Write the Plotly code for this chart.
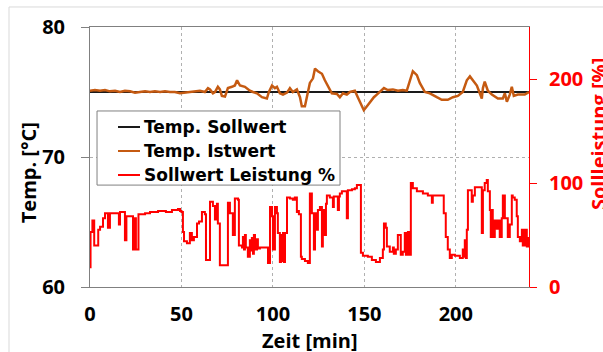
import plotly.graph_objects as go

# ---- data ----
# Temperature set point (°C)
soll_t = [0, 240]
soll_temp = [75.0, 75.0]

# Temperature actual value (°C)
ist_t = [0, 2.7, 5.5, 8.2, 10.9, 13.7, 16.4, 19.1, 21.9, 24.6, 27.3, 30.1, 32.8, 35.5, 38.3,
         41, 43.7, 46.4, 49.2, 51.9, 54.6, 57.4, 60.1, 62.8, 64.5, 65.6, 67.2, 68.3, 69.9,
         71, 72.1, 73.8, 75.4, 77.6, 79.2, 80.4, 82, 84.7, 87.4, 89.1, 91.3, 94, 96.7, 97.8,
         99.5, 101.1, 102.2, 103.8, 105.5, 107.7, 109.3, 110.9, 113.1, 114.8, 115.8, 117.5,
         119.1, 120.2, 121.9, 123, 124.6, 126.8, 128.4, 130.1, 132.2, 135, 136.6, 138.3,
         140.4, 142.1, 144.8, 146.4, 148.6, 149.7, 151.4, 153, 155.2, 156.8, 158.5, 160.7,
         162.8, 165.6, 168.3, 171, 173.2, 174.9, 176.5, 178.7, 180.3, 183.1, 185.8, 189.6,
         192.3, 195.6, 198.4, 201.1, 203.8, 206, 207.7, 209.3, 211.5, 213.1, 214.2, 214.8,
         215.8, 217.5, 219.7, 223, 225.7, 226.8, 227.9, 229.5, 230.6, 231.7, 233.9, 237.7, 240]
ist_temp = [75.1, 75.15, 75.1, 75.15, 75.05, 75.1, 75.0, 75.1, 75.05, 74.95, 75.0, 75.05, 75.0,
            75.05, 75.0, 75.05, 75.0, 75.0, 74.9, 74.95, 75.0, 75.05, 75.1, 75.0, 75.3, 75.2,
            74.9, 75.0, 75.4, 75.2, 74.7, 74.65, 75.3, 75.4, 75.5, 75.9, 75.5, 75.4, 75.1, 75.0,
            74.9, 74.6, 74.5, 75.0, 75.5, 75.3, 75.4, 74.9, 74.8, 74.95, 75.3, 75.0, 75.2, 74.6,
            73.9, 73.9, 74.9, 75.7, 76.05, 76.8, 76.6, 76.4, 75.9, 75.4, 74.9, 74.85, 74.6, 74.9,
            74.8, 75.0, 75.1, 74.6, 73.9, 73.6, 73.9, 74.2, 74.6, 74.8, 75.0, 75.3, 75.15, 75.2,
            75.1, 75.15, 75.1, 75.9, 76.6, 76.3, 75.7, 75.0, 74.9, 74.6, 74.4, 74.4, 74.6, 74.7,
            75.0, 75.9, 76.2, 75.9, 75.5, 74.9, 74.5, 75.3, 75.8, 75.1, 74.8, 74.5, 74.5, 74.9,
            74.25, 74.8, 75.4, 74.7, 74.8, 74.8, 75.0]

# Power set point (%)
lst_t = [0, 0.3, 1.3, 2.3, 4.5, 5.5, 7.1, 8.2, 9.8, 10.9, 15.8, 16.4, 19.1, 19.9, 23.5, 24.6,
         25.1, 26.5, 30.1, 32.8, 37.2, 41.5, 44.8, 48.1, 49.2, 50, 50.8, 51.4, 53, 54.6, 55.7,
         56.8, 58.5, 59.6, 61.2, 62.8, 63.4, 65.6, 67.2, 68.3, 69.4, 69.9, 71, 74.9, 75.4,
         76.5, 78.1, 79.2, 80.9, 81.4, 83.1, 83.6, 84.2, 84.7, 85.2, 86.3, 87.4, 88, 88.5,
         89.1, 89.6, 90.2, 91.3, 91.8, 92.9, 97.3, 98.4, 99.5, 100, 101.1, 102.2, 102.7,
         103.8, 104.4, 104.9, 105.5, 106, 106.6, 107.7, 109.3, 110.9, 112, 113.1, 113.7,
         114.2, 115.3, 115.8, 117.5, 119.1, 120.2, 121.3, 122.4, 123, 124, 124.6, 125.7,
         126.8, 127.3, 128.4, 129, 129.5, 131.1, 132.8, 133.3, 135.5, 136.1, 136.6, 137.7,
         140.4, 141, 143.2, 144.8, 145.9, 148.1, 149.2, 151.9, 154.1, 156.3, 158.5, 160.1,
         160.7, 161.7, 162.3, 163.9, 165.6, 166.1, 167.2, 168.3, 169.9, 171, 172.1, 172.7,
         173.8, 174.9, 175.4, 176.5, 178.7, 182, 184.7, 186.9, 187.4, 192.9, 193.4, 194.5,
         195.6, 196.7, 197.8, 199.5, 202.2, 203.8, 204.4, 204.9, 205.5, 206, 206.6, 208.7,
         209.3, 210.4, 214.2, 214.8, 215.8, 216.9, 217.5, 218.6, 219.1, 219.7, 220.2, 220.8,
         221.3, 222.4, 223, 224, 225.1, 225.7, 226.8, 228.4, 229.5, 230.6, 231.1, 232.2,
         233.3, 233.9, 235, 236.1, 236.6, 237.7, 238.8, 239.3, 240]
lst_val = [19, 53, 64, 40, 55, 58, 66, 71, 57, 71, 60, 72, 45, 68, 36, 66, 36, 70, 71, 72, 73,
           72, 74, 75, 73, 72, 53, 44, 42, 52, 45, 48, 61, 63, 72, 70, 26, 82, 78, 65, 80, 61,
           21, 21, 81, 71, 50, 85, 84, 40, 38, 48, 36, 50, 38, 29, 45, 35, 47, 32, 50, 36, 46,
           37, 38, 23, 77, 68, 36, 77, 71, 52, 24, 50, 25, 52, 24, 52, 86, 85, 84, 86, 72, 73,
           70, 29, 27, 25, 23, 90, 71, 36, 71, 55, 74, 77, 39, 74, 50, 80, 88, 86, 77, 87, 74,
           87, 90, 92, 66, 93, 94, 95, 98, 33, 30, 29, 26, 24, 28, 36, 61, 57, 39, 34, 38, 32,
           36, 50, 31, 34, 52, 31, 53, 31, 100, 95, 92, 90, 88, 81, 88, 88, 71, 48, 36, 28, 31,
           30, 28, 36, 29, 45, 28, 55, 93, 82, 88, 96, 52, 93, 100, 103, 92, 74, 48, 74, 64,
           48, 64, 56, 64, 48, 66, 88, 66, 48, 60, 88, 86, 84, 68, 48, 44, 55, 40, 55, 39, 47,
           38, 38]

series_names = ["Temp. Sollwert", "Temp. Istwert", "Sollwert Leistung %"]

x_ticks = [0, 50, 100, 150, 200]
y_ticks = [60, 70, 80]
y2_ticks = [0, 100, 200]

FONT = "Open Sans"
LEG_FONT = "DejaVu Sans"
GRAY = "#808080"
RED = "#FF0000"
ORANGE = "#C55A11"
BLACK = "#1a1a1a"
colors = [BLACK, ORANGE, RED]

fig = go.Figure()
fig.add_trace(go.Scatter(x=soll_t, y=soll_temp, mode="lines", name=series_names[0],
                         line=dict(color=BLACK, width=2)))
fig.add_trace(go.Scatter(x=ist_t, y=ist_temp, mode="lines", name=series_names[1],
                         line=dict(color=ORANGE, width=2.5)))
fig.add_trace(go.Scatter(x=lst_t, y=lst_val, mode="lines", name=series_names[2],
                         yaxis="y2", line=dict(color=RED, width=2, shape="hv")))

# manual legend box (paper coordinates) so its size matches the reference
leg_x0, leg_x1, leg_y0, leg_y1 = 0.016, 0.5695, 0.392, 0.677
entry_y = [0.6154, 0.5231, 0.4308]
shapes = [
    dict(type="rect", xref="paper", yref="paper", x0=-0.1845, x1=1.2,
         y0=-0.3, y1=1.077, line=dict(color="#D9D9D9", width=1), layer="below"),
    dict(type="rect", xref="paper", yref="paper", x0=leg_x0, x1=leg_x1,
         y0=leg_y0, y1=leg_y1, fillcolor="white", line=dict(color=GRAY, width=1),
         layer="above"),
]
annotations = []
for name, col, ey in zip(series_names, colors, entry_y):
    shapes.append(dict(type="line", xref="paper", yref="paper", x0=0.0638, x1=0.1139,
                       y0=ey, y1=ey, line=dict(color=col, width=2), layer="above"))
    annotations.append(dict(text=name, xref="paper", yref="paper", x=0.1185, y=ey,
                            xanchor="left", yanchor="middle", showarrow=False,
                            font=dict(family=LEG_FONT, size=17, color="black", weight="bold")))

annotations += [
    dict(text="Zeit [min]", xref="paper", yref="paper", x=0.501, y=-0.204,
         xanchor="center", yanchor="middle", showarrow=False, height=21,
         font=dict(family=FONT, size=20, color="black", weight="bold")),
    dict(text="Temp. [°C]", xref="paper", yref="paper", x=-0.141, y=0.438,
         xanchor="center", yanchor="middle", showarrow=False, textangle=-90,
         font=dict(family=FONT, size=20, color="black", weight="bold")),
    dict(text="Sollleistung [%]", xref="paper", yref="paper", x=1.157, y=0.588,
         xanchor="center", yanchor="middle", showarrow=False, textangle=-90,
         font=dict(family=FONT, size=20, color=RED, weight="bold")),
]

fig.update_layout(
    width=603, height=352,
    margin=dict(l=90, r=74, t=27, b=65),
    paper_bgcolor="white", plot_bgcolor="white",
    font=dict(family=FONT, color="black"),
    showlegend=False,
    xaxis=dict(range=[0, 240], tickvals=x_ticks, showgrid=True,
               gridcolor="#B0B0B0", griddash="3px,3px", gridwidth=1,
               showline=True, linecolor=GRAY, linewidth=1, mirror=True,
               ticks="", zeroline=False, ticklabelstandoff=9,
               tickfont=dict(family=FONT, size=20, color="black", weight="bold")),
    yaxis=dict(range=[60, 80], tickvals=y_ticks, showgrid=True,
               gridcolor="#B0B0B0", griddash="3px,3px", gridwidth=1,
               showline=True, linecolor=GRAY, linewidth=1,
               ticks="outside", ticklen=8, tickcolor=GRAY, zeroline=False,
               ticklabelstandoff=12,
               tickfont=dict(family=FONT, size=20, color="black", weight="bold")),
    yaxis2=dict(range=[0, 250], tickvals=y2_ticks, overlaying="y", side="right",
                showgrid=False, showline=True, linecolor=RED, linewidth=1,
                ticks="outside", ticklen=7, tickcolor=RED, zeroline=False,
                ticklabelstandoff=8,
                tickfont=dict(family=FONT, size=20, color=RED, weight="bold")),
    annotations=annotations,
    shapes=shapes,
)

fig.write_html("out.html")
